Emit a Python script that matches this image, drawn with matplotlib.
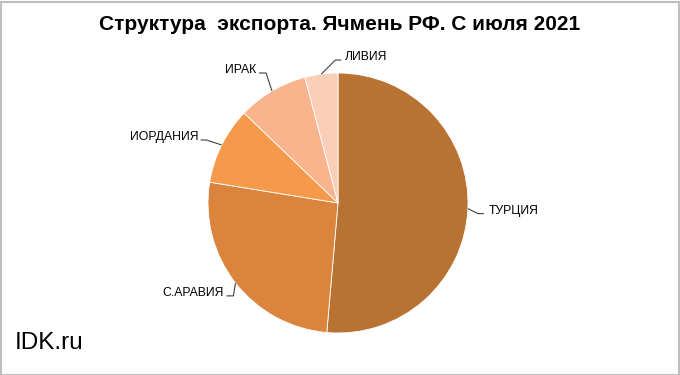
import numpy as np
import matplotlib
matplotlib.use("Agg")
import matplotlib.pyplot as plt
from matplotlib.patches import Rectangle

plt.rcParams['font.family'] = ['Liberation Sans', 'DejaVu Sans']

countries = ["ТУРЦИЯ", "С.АРАВИЯ", "ИОРДАНИЯ", "ИРАК", "ЛИВИЯ"]
shares = [51.4, 26.2, 9.6, 8.75, 4.1]
colors = ["#B87333", "#DB843D", "#F59A4B", "#F8B58D", "#FBCEB7"]
title = "Структура  экспорта. Ячмень РФ. С июля 2021"
watermark = "IDK.ru"

W, H = 680, 375
fig = plt.figure(figsize=(W / 100, H / 100), dpi=100)
ax = fig.add_axes([0, 0, 1, 1])

cx, cy, R = 338, H - 203, 130
wedges, _ = ax.pie(shares, colors=colors, startangle=90, counterclock=False,
                   center=(cx, cy), radius=R, frame=True,
                   wedgeprops=dict(edgecolor='white', linewidth=0.6))
ax.set_xlim(0, W)
ax.set_ylim(0, H)
ax.set_aspect('equal')
ax.axis('off')

# label layout: (elbow dx, elbow dy, end dx, text dx, text dy, ha) relative to edge point
layout = [
    (10, -5, 6, 5, 3, 'left'),
    (-2, -13, -7, -3, 3, 'right'),
    (-15, 5, -6, -2, 3, 'right'),
    (-6, 18, -7, -3, 3, 'right'),
    (14, 14, 6, 4, 3, 'left'),
]
for w, name, (ex, ey, hx, tx, ty, ha) in zip(wedges, countries, layout):
    mid = np.deg2rad((w.theta1 + w.theta2) / 2)
    px, py = cx + R * np.cos(mid), cy + R * np.sin(mid)
    x1, y1 = px + ex, py + ey
    x2 = x1 + hx
    ax.plot([px, x1, x2], [py, y1, y1], color='#404040', lw=0.8, solid_capstyle='butt')
    ax.text(x2 + tx, y1 + ty, name, ha=ha, va='center', fontsize=8.8, color='black')

fig.text(340 / W, 1 - 25 / H, title, ha='center', va='center',
         fontsize=15, fontweight='bold', color='black')
fig.text(15 / W, 1 - 343 / H, watermark, ha='left', va='center',
         fontsize=17.5, color='black')

fig.patches.append(Rectangle((0.5 / W, 0.5 / H), 1 - 2 / W, 1 - 2 / H,
                             transform=fig.transFigure, fill=False,
                             edgecolor='#BFBFBF', lw=1.5))
fig.savefig('out.png', dpi=100)
